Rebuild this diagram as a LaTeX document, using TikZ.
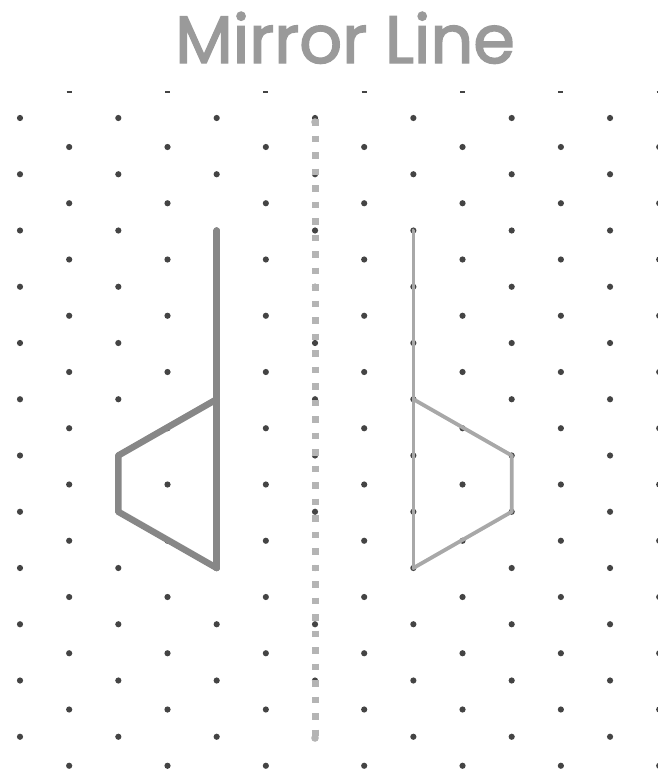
\documentclass[tikz,border=0pt]{standalone}
\usepackage{fontspec}
\setmainfont{Poppins}
\newfontfamily\headfont{Poppins}[FakeBold=2.2]
\usepackage{xcolor}
\usepackage{tikz}
\usetikzlibrary{calc}
\definecolor{dotgrey}{HTML}{444444}
\definecolor{mirrorgrey}{HTML}{b4b4b4}
\definecolor{objgrey}{HTML}{878787}
\definecolor{imggrey}{HTML}{a8a8a8}
\definecolor{titlegrey}{HTML}{9a9a9a}

\begin{document}
\begin{tikzpicture}[
    x=1pt, y=-1pt,
    dot/.style={fill=dotgrey, draw=none},
    cutdot/.style={draw=dotgrey, line width=1.6pt},
    mirror/.style={draw=mirrorgrey, line width=7pt, dash pattern=on 6.5pt off 10pt},
    object/.style={draw=objgrey, line width=6.5pt, line cap=round, line join=round},
    image/.style={draw=imggrey, line width=3.8pt, line cap=round, line join=round},
    title/.style={font=\headfont\fontsize{67}{67}\selectfont, text=titlegrey, anchor=base},
]
\useasboundingbox (0,0) rectangle (657,771);

% isometric dot grid
\foreach \i in {0,...,13} {
  \pgfmathsetmacro{\gx}{20+49.17*\i}
  \ifodd\i
    \draw[cutdot] (\gx-2.5,92) -- (\gx+2.5,92);
    \foreach \j in {0,...,11}
      \fill[dot] (\gx,147+56.25*\j) circle (3.1pt);
  \else
    \foreach \j in {0,...,11}
      \fill[dot] (\gx,118+56.25*\j) circle (3.1pt);
  \fi
}

\node[title] (title) at (345,63) {Mirror Line};

% mirror line
\draw[mirror] (315,119) coordinate (mtop) -- (315,741) coordinate (mbot);
\fill[mirrorgrey] (mtop) ++(0,3) circle (3.8pt);
\fill[mirrorgrey] (mbot) ++(0,-3) circle (3.8pt);

% object (left)
\coordinate (ltop) at (216.7,230.5);
\coordinate (lmid) at (216.7,399.25);
\coordinate (lfar1) at (118.3,455.5);
\coordinate (lfar2) at (118.3,511.75);
\coordinate (lbot) at (216.7,568);
\draw[object] (ltop) -- (lbot);
\draw[object] (lmid) -- (lfar1) -- (lfar2) -- (lbot);

% image (right)
\coordinate (rtop) at (413.4,230.5);
\coordinate (rmid) at (413.4,399.25);
\coordinate (rfar1) at (511.7,455.5);
\coordinate (rfar2) at (511.7,511.75);
\coordinate (rbot) at (413.4,568);
\draw[image] (rtop) -- (rbot);
\draw[image] (rmid) -- (rfar1) -- (rfar2) -- (rbot);

\end{tikzpicture}
\end{document}
